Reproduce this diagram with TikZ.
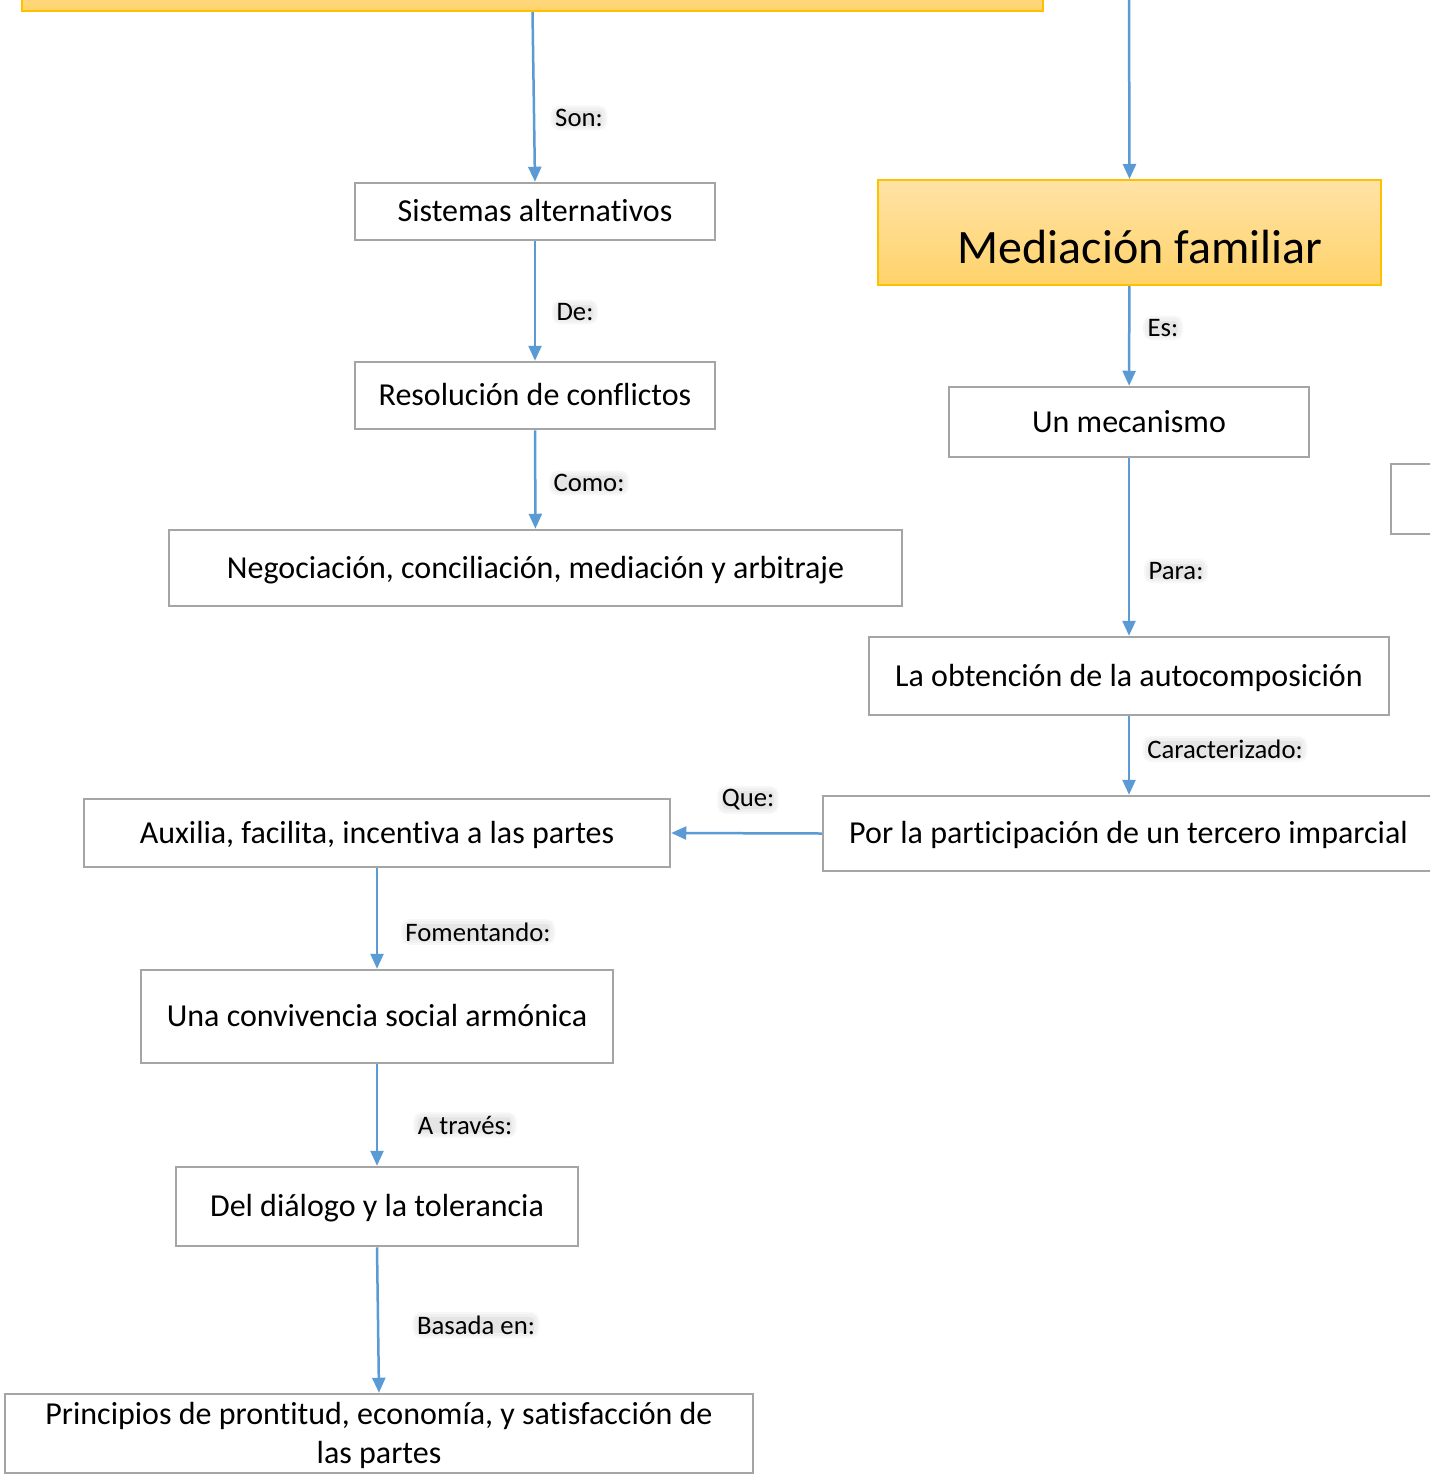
\documentclass[tikz,border=0pt]{standalone}
\usepackage{fontspec}
\setmainfont{Carlito}[Ligatures=NoCommon]
\usetikzlibrary{arrows.meta}
\definecolor{arrowblue}{HTML}{5B9BD5}
\definecolor{boxgray}{HTML}{A5A5A5}
\definecolor{orangeborder}{HTML}{FFC000}
\definecolor{orangetop}{HTML}{FFE2A6}
\definecolor{orangebot}{HTML}{FFD36A}
\tikzset{
  box/.style={draw=boxgray, line width=2.5pt, fill=white, rectangle, inner sep=0pt,
    font=\fontsize{32}{39}\selectfont, text height=27pt, text depth=7pt},
  orangebox/.style={draw=orangeborder, line width=2pt, top color=orangetop, bottom color=orangebot, rectangle, inner sep=0pt},
  conn/.style={draw=arrowblue, line width=2.5pt, -{Triangle[length=15pt,width=13pt]}},
  lbl/.style={inner xsep=1pt, inner ysep=0pt, font=\fontsize{26.7}{32}\selectfont,
    rounded corners=5pt, fill=black!10, draw=black!6, line width=3pt,
    preaction={draw=black!3, line width=7pt}}
}
\begin{document}
\begin{tikzpicture}[x=1pt,y=-1pt]
\useasboundingbox (0,0) rectangle (1430,1475);
\clip (0,0) rectangle (1430,1475);
\fill[white] (0,0) rectangle (1430,1475);

% top boxes (cut off)
\node[orangebox, minimum width=1021pt, minimum height=41pt] (top) at (532.5,-9.5) {};
\coordinate (topright) at (1129,-5);

% left column
\node[box, minimum width=360pt, minimum height=57pt] (sis) at (535,211.5) {Sistemas alternativos};
\node[box, minimum width=360pt, minimum height=67pt] (res) at (535,395.5) {Resolución de conflictos};
\node[box, minimum width=733pt, minimum height=76pt] (neg) at (535.5,568) {Negociación, conciliación, mediación y arbitraje};

% right column
\node[orangebox, minimum width=503pt, minimum height=105pt] (med) at (1129.5,232.5) {};
\node[inner sep=0pt, font=\fontsize{48}{58}\selectfont] (medt) at (1140,247) {Mediación familiar};
\node[box, minimum width=360pt, minimum height=70pt] (mec) at (1129,422) {Un mecanismo};
\node[box, minimum width=69pt, minimum height=70pt] (part) at (1425.5,499) {};
\node[box, minimum width=520pt, minimum height=78pt] (obt) at (1129,676) {La obtención de la autocomposición};
\node[box, minimum width=611pt, minimum height=75pt] (por) at (1128.5,833.5) {Por la participación de un tercero imparcial};

% lower left column
\node[box, minimum width=586pt, minimum height=68pt] (aux) at (377,833) {Auxilia, facilita, incentiva a las partes};
\node[box, minimum width=472pt, minimum height=93pt] (con) at (377,1016.5) {Una convivencia social armónica};
\node[box, minimum width=402pt, minimum height=79pt] (dia) at (377,1206.5) {Del diálogo y la tolerancia};
\node[box, minimum width=748pt, minimum height=79pt, text height=66pt, text depth=7pt, align=center] (pri) at (379,1433.5) {Principios de prontitud, economía, y satisfacción de\\las partes};

% connectors
\draw[conn] (top.south) -- (sis.north);
\draw[conn] (sis) -- (res);
\draw[conn] (res) -- (neg);
\draw[conn] (topright) -- (med.north);
\draw[conn] (med) -- (mec);
\draw[conn] (mec) -- (obt);
\draw[conn] (obt) -- (por.north -| obt.south);
\draw[conn] (por.west) -- (aux.east);
\draw[conn] (aux) -- (con);
\draw[conn] (con) -- (dia);
\draw[conn] (dia.south) -- (pri.north);

% labels
\node[lbl] (l1) at (579,118) {Son:};
\node[lbl] (l2) at (575,312) {De:};
\node[lbl] (l3) at (589,483) {Como:};
\node[lbl] (l4) at (1163,328) {Es:};
\node[lbl] (l5) at (1176,571) {Para:};
\node[lbl] (l6) at (1225,749) {Caracterizado:};
\node[lbl] (l7) at (748,800) {Que:};
\node[lbl] (l8) at (478,932) {Fomentando:};
\node[lbl] (l9) at (465,1125) {A través:};
\node[lbl] (l10) at (476,1325) {Basada en:};
\end{tikzpicture}
\end{document}
